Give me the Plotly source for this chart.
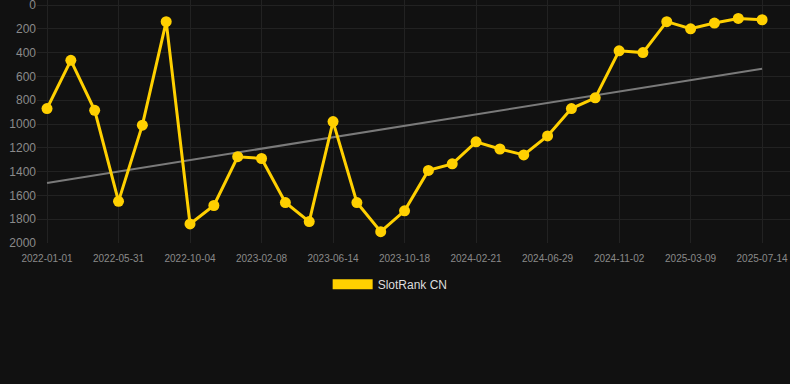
import numpy as np
import plotly.graph_objects as go

tick_labels = ["2022-01-01", "2022-05-31", "2022-10-04", "2023-02-08", "2023-06-14",
               "2023-10-18", "2024-02-21", "2024-06-29", "2024-11-02", "2025-03-09", "2025-07-14"]
ranks = [870, 465, 885, 1650, 1010, 140, 1840, 1685, 1275, 1290, 1660, 1820, 980, 1660, 1905,
         1730, 1390, 1335, 1150, 1210, 1260, 1100, 870, 780, 385, 400, 140, 200, 152, 113, 124]
series_name = "SlotRank CN"

x = list(range(len(ranks)))
coef = np.polyfit(x, ranks, 1)
trend = np.polyval(coef, [x[0], x[-1]])

fig = go.Figure()
fig.add_trace(go.Scatter(x=[x[0], x[-1]], y=trend, mode="lines",
                         line=dict(color="#7a7a7a", width=2), showlegend=False, hoverinfo="skip"))
fig.add_trace(go.Scatter(x=x, y=ranks, mode="lines+markers",
                         line=dict(color="#FFD000", width=3),
                         marker=dict(color="#FFD000", size=11), showlegend=False))
fig.add_trace(go.Scatter(x=[None], y=[None], mode="lines", name=series_name,
                         line=dict(color="#FFD000", width=11), showlegend=True))

fig.update_layout(
    width=790, height=384,
    margin=dict(l=37, r=0, t=0, b=141),
    paper_bgcolor="#111111", plot_bgcolor="#111111",
    font=dict(family="Arial, Liberation Sans, sans-serif", color="#8a8a8a"),
    showlegend=True,
    legend=dict(orientation="h", x=0.469, xanchor="center", y=-0.11, yanchor="top",
                font=dict(size=12, color="#dddddd"), itemwidth=40, bgcolor="rgba(0,0,0,0)"),
    xaxis=dict(range=[-0.42, 31.17], tickmode="array", tickvals=x[::3], ticktext=tick_labels,
               showgrid=True, gridcolor="#222222", zeroline=False, showline=False,
               tickfont=dict(size=10, color="#8a8a8a"), ticks="outside", ticklen=6,
               tickcolor="rgba(0,0,0,0)"),
    yaxis=dict(range=[2000, -42], tickmode="linear", tick0=0, dtick=200,
               showgrid=True, gridcolor="#222222", zeroline=True, zerolinecolor="#222222",
               zerolinewidth=1, showline=False, ticklabeloverflow="allow", automargin=False,
               tickfont=dict(size=12, color="#8a8a8a"), ticks="", ticklen=0),
)
fig.write_html("out.html")
